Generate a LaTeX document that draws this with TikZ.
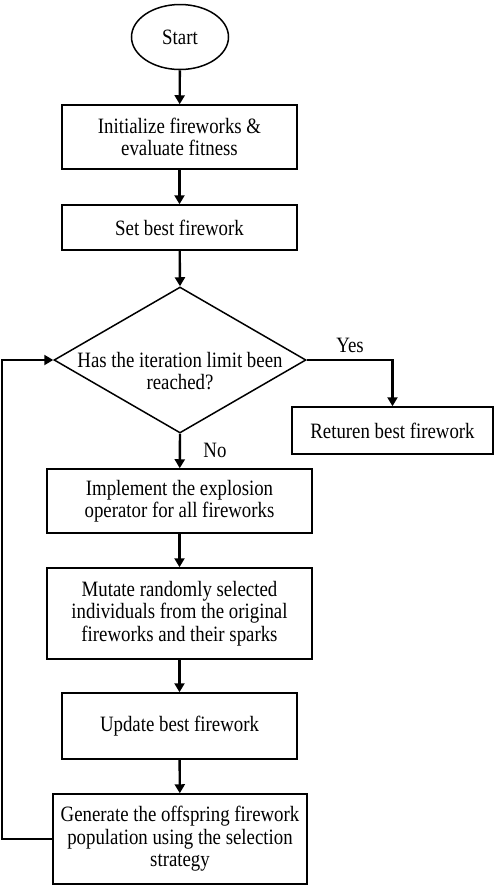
\documentclass[tikz,border=0pt]{standalone}
\usepackage{fontspec}
\setmainfont[FakeStretch=0.86]{Liberation Serif}
\usetikzlibrary{shapes.geometric,arrows.meta}
\tikzset{
  box/.style={draw, line width=1.5pt, rectangle, inner sep=2pt, align=center,
    font=\fontsize{21.9}{22.5}\selectfont},
  arr/.style={line width=2.4pt, -{Triangle[length=9pt,width=10pt]}},
  lbl/.style={font=\fontsize{21.9}{22.5}\selectfont, inner sep=0pt}
}
\begin{document}
\begin{tikzpicture}[x=1pt,y=-1pt]
\useasboundingbox (0,0) rectangle (498,887);
\node[box, ellipse, minimum width=97pt, minimum height=65pt, inner sep=0pt] (start) at (180,37) {Start};
\node[box, minimum width=235pt, minimum height=64pt] (init) at (179.5,137) {Initialize fireworks \&\\evaluate fitness};
\node[box, minimum width=235pt, minimum height=45pt] (setb) at (179.5,227.5) {Set best firework};
\node[draw, line width=1.5pt, diamond, minimum width=252pt, minimum height=146pt, inner sep=0pt] (dec) at (180,360) {};
\node[lbl, align=center] (dectext) at (180,371) {Has the iteration limit been\\reached?};
\node[box, minimum width=201pt, minimum height=47pt] (ret) at (392.5,430.5) {Returen best firework};
\node[box, minimum width=265pt, minimum height=64pt] (impl) at (179.5,501) {Implement the explosion\\operator for all fireworks};
\node[box, minimum width=265pt, minimum height=91pt] (mut) at (179.5,613.5) {Mutate randomly selected\\individuals from the original\\fireworks and their sparks};
\node[box, minimum width=235pt, minimum height=66pt] (upd) at (179.5,726) {Update best firework};
\node[box, minimum width=254pt, minimum height=90pt] (gen) at (180,839) {Generate the offspring firework\\population using the selection\\strategy};
\node[lbl] (yes) at (350,345) {Yes};
\node[lbl] (no) at (215,450) {No};
\draw[arr] (start) -- (init);
\draw[arr] (init) -- (setb);
\draw[arr] (setb) -- (dec.north);
\draw[arr] (dec.south) -- (impl);
\draw[arr] (impl) -- (mut);
\draw[arr] (mut) -- (upd);
\draw[arr] (upd) -- (gen);
\draw[arr] (dec.east) -| (ret.north);
\draw[arr, line width=2pt] (gen.west) -- ++(-50,0) |- (dec.west);
\end{tikzpicture}
\end{document}
